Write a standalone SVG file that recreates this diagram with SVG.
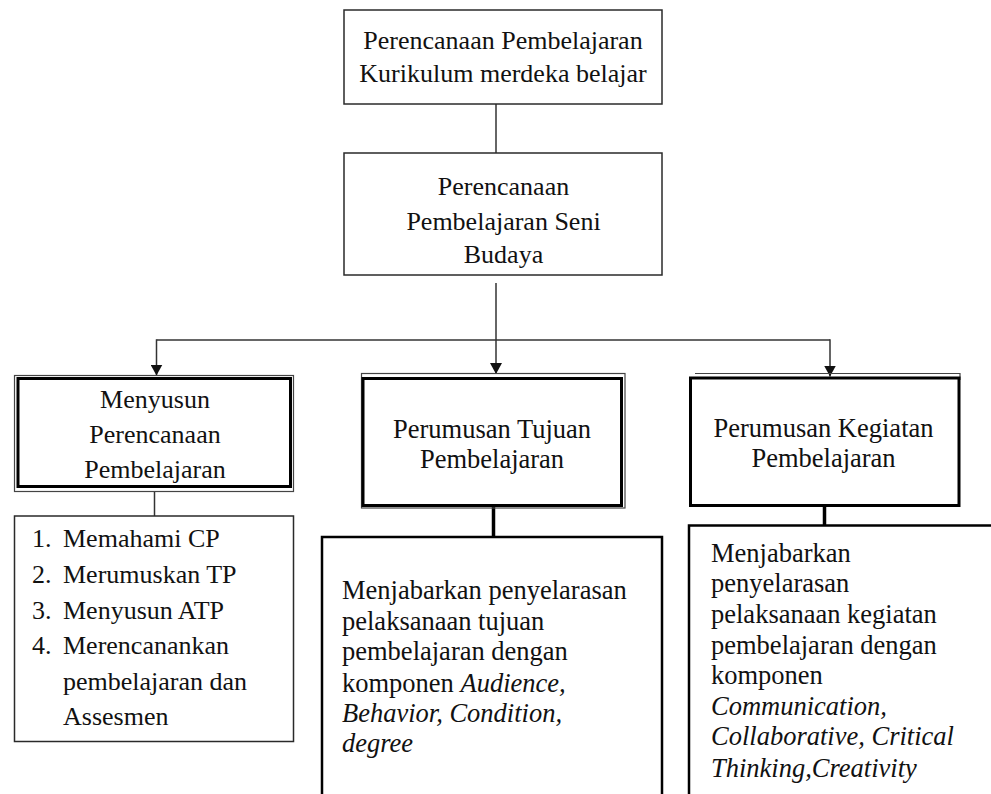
<svg xmlns="http://www.w3.org/2000/svg" width="991" height="794" viewBox="0 0 991 794">
<style>
  text { font-family: 'Liberation Serif', 'DejaVu Serif', serif; font-size: 26px; fill: #111; }
  .c { text-anchor: middle; }
  .big { font-size: 26.5px; }
  .thin { fill: #fff; stroke: #2a2a2a; stroke-width: 1.5; }
  .shadow { fill: none; stroke: #444; stroke-width: 1.2; }
  .thick { fill: #fff; stroke: #000; stroke-width: 3; }
  .box2 { fill: #fff; stroke: #000; stroke-width: 2.5; }
  .line { fill: none; stroke: #333; stroke-width: 1.5; }
  .tline { fill: none; stroke: #000; stroke-width: 3.5; }
</style>
<defs>
  <marker id="arrB" viewBox="0 0 10 10" refX="10" refY="5" markerWidth="11" markerHeight="12" markerUnits="userSpaceOnUse" orient="auto" preserveAspectRatio="none">
    <path d="M0,0 L10,5 L0,10 z" fill="#111"/>
  </marker>
</defs>

<g id="connectors">
  <line class="line" x1="496" y1="104" x2="496" y2="153"/>
  <line class="line" x1="496" y1="283" x2="496" y2="374" marker-end="url(#arrB)"/>
  <line class="line" x1="156.5" y1="340" x2="830" y2="340"/>
  <line class="line" x1="156.5" y1="339.3" x2="156.5" y2="375.5" marker-end="url(#arrB)"/>
  <line class="line" x1="830" y1="339.3" x2="830" y2="376.5" marker-end="url(#arrB)"/>
  <line class="line" x1="154.5" y1="491" x2="154.5" y2="516"/>
  <line class="tline" x1="493.5" y1="506" x2="493.5" y2="537"/>
  <line class="tline" x1="824.5" y1="507" x2="824.5" y2="537"/>
</g>

<g font-family="Liberation Serif, DejaVu Serif, serif">
<g id="n-kurikulum">
  <rect class="thin" x="344" y="10" width="318" height="94"/>
  <text class="c" x="503" y="49">Perencanaan Pembelajaran</text>
  <text class="c" x="503" y="82">Kurikulum merdeka belajar</text>
</g>

<g id="n-seni-budaya">
  <rect class="thin" x="344" y="153" width="318" height="122"/>
  <text class="c" x="503.5" y="195">Perencanaan</text>
  <text class="c" x="503.5" y="230">Pembelajaran Seni</text>
  <text class="c" x="503.5" y="263">Budaya</text>
</g>

<g id="n-menyusun">
  <rect class="shadow" x="14.5" y="375.5" width="279" height="116"/>
  <rect class="thick" x="18" y="378.5" width="272.5" height="108"/>
  <text class="c" x="155" y="408">Menyusun</text>
  <text class="c" x="155" y="443">Perencanaan</text>
  <text class="c" x="155" y="478">Pembelajaran</text>
</g>

<g id="n-list">
  <rect class="thin" x="14.5" y="516" width="279" height="225.5"/>
  <text x="32" y="547">1.</text><text x="63" y="547">Memahami CP</text>
  <text x="32" y="583">2.</text><text x="63" y="583">Merumuskan TP</text>
  <text x="32" y="619">3.</text><text x="63" y="619">Menyusun ATP</text>
  <text x="32" y="654">4.</text><text x="63" y="654">Merencanankan</text>
  <text x="63" y="690">pembelajaran dan</text>
  <text x="63" y="725">Assesmen</text>
</g>

<g id="n-tujuan">
  <rect class="shadow" x="361.5" y="373.5" width="263.5" height="134.5"/>
  <rect class="thick" x="363" y="378.5" width="258.5" height="127"/>
  <text class="c big" x="492" y="438">Perumusan Tujuan</text>
  <text class="c big" x="492" y="468">Pembelajaran</text>
</g>

<g id="n-kegiatan">
  <polyline class="shadow" points="695,373.5 960,373.5 960,380"/>
  <rect class="thick" x="690.5" y="378" width="268.5" height="127.5"/>
  <text class="c big" x="823.5" y="436.5">Perumusan Kegiatan</text>
  <text class="c big" x="823.5" y="466.5">Pembelajaran</text>
</g>

<g id="n-tujuan-detail">
  <rect class="box2" x="322" y="537" width="340" height="280"/>
  <text class="big" x="342" y="599">Menjabarkan penyelarasan</text>
  <text class="big" x="342" y="630">pelaksanaan tujuan</text>
  <text class="big" x="342" y="660">pembelajaran dengan</text>
  <text class="big" x="342" y="691.5">komponen <tspan font-style="italic">Audience,</tspan></text>
  <text class="big" x="342" y="721.5" font-style="italic">Behavior, Condition,</text>
  <text class="big" x="342" y="752" font-style="italic">degree</text>
</g>

<g id="n-kegiatan-detail">
  <rect class="box2" x="689" y="525.5" width="340" height="290"/>
  <text class="big" x="711" y="562">Menjabarkan</text>
  <text class="big" x="711" y="592">penyelarasan</text>
  <text class="big" x="711" y="623">pelaksanaan kegiatan</text>
  <text class="big" x="711" y="653.5">pembelajaran dengan</text>
  <text class="big" x="711" y="684">komponen</text>
  <text class="big" x="711" y="715" font-style="italic">Communication,</text>
  <text class="big" x="711" y="745" font-style="italic">Collaborative, Critical</text>
  <text class="big" x="711" y="776.5" font-style="italic">Thinking,Creativity</text>
</g>
</g>
</svg>
